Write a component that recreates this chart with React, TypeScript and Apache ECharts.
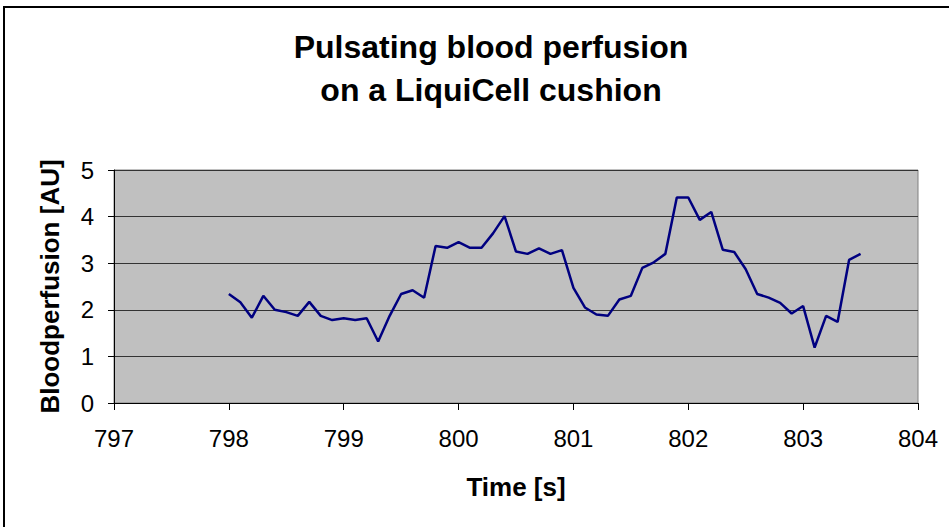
import React, { useEffect, useRef } from "react";
import * as echarts from "echarts";

const times: number[] = [
  798.0, 798.1, 798.2, 798.3, 798.4, 798.5, 798.6, 798.7, 798.8, 798.9,
  799.0, 799.1, 799.2, 799.3, 799.4, 799.5, 799.6, 799.7, 799.8, 799.9,
  800.0, 800.1, 800.2, 800.3, 800.4, 800.5, 800.6, 800.7, 800.8, 800.9,
  801.0, 801.1, 801.2, 801.3, 801.4, 801.5, 801.6, 801.7, 801.8, 801.9,
  802.0, 802.1, 802.2, 802.3, 802.4, 802.5, 802.6, 802.7, 802.8, 802.9,
  803.0, 803.1, 803.2, 803.3, 803.4, 803.5,
];

const perfusion: number[] = [
  2.34, 2.16, 1.83, 2.30, 2.00, 1.95, 1.87, 2.17, 1.87, 1.78,
  1.82, 1.78, 1.82, 1.32, 1.87, 2.34, 2.42, 2.26, 3.37, 3.33,
  3.45, 3.33, 3.33, 3.64, 4.01, 3.25, 3.20, 3.32, 3.20, 3.28,
  2.47, 2.05, 1.90, 1.87, 2.22, 2.30, 2.90, 3.02, 3.20, 4.41,
  4.41, 3.93, 4.10, 3.29, 3.24, 2.87, 2.34, 2.26, 2.15, 1.92,
  2.08, 1.19, 1.87, 1.74, 3.07, 3.20,
];

const titleLines: string[] = ["Pulsating blood perfusion", "on a LiquiCell cushion"];
const xAxisName = "Time [s]";
const yAxisName = "Bloodperfusion [AU]";

const FONT = "'Liberation Sans', Arial, Helvetica, sans-serif";

export default function App() {
  const ref = useRef<HTMLDivElement>(null);

  useEffect(() => {
    if (!ref.current) return;
    const chart = echarts.init(ref.current, null, { renderer: "svg" });
    const data = times.map((t, i) => [t, perfusion[i]]);
    chart.setOption({
      animation: false,
      backgroundColor: "#ffffff",
      graphic: [
        {
          type: "rect",
          shape: { x: 4, y: 7, width: 980, height: 560 },
          style: { fill: "none", stroke: "#000000", lineWidth: 2 },
          silent: true,
          z: 100,
        },
      ],
      title: {
        text: titleLines.join("\n"),
        left: 486,
        top: 20,
        textAlign: "center",
        textStyle: {
          fontFamily: FONT,
          fontSize: 32,
          fontWeight: "bold",
          color: "#000000",
          lineHeight: 43,
        },
      },
      grid: {
        left: 114,
        right: 31,
        top: 170,
        bottom: 124,
        show: true,
        backgroundColor: "#c0c0c0",
        borderColor: "#808080",
        borderWidth: 1,
      },
      xAxis: {
        type: "value",
        min: 797,
        max: 804,
        interval: 1,
        name: xAxisName,
        nameLocation: "middle",
        nameGap: 71,
        nameTextStyle: {
          fontFamily: FONT,
          fontSize: 26,
          fontWeight: "bold",
          color: "#000000",
        },
        axisLine: { show: true, onZero: false, lineStyle: { color: "#000000", width: 1 } },
        axisTick: { show: true, length: 7, inside: false, lineStyle: { color: "#000000" } },
        axisLabel: {
          fontFamily: FONT,
          fontSize: 24,
          color: "#000000",
          margin: 23,
        },
        splitLine: { show: false },
      },
      yAxis: {
        type: "value",
        min: 0,
        max: 5,
        interval: 1,
        name: yAxisName,
        nameLocation: "middle",
        nameGap: 51,
        nameTextStyle: {
          fontFamily: FONT,
          fontSize: 26,
          fontWeight: "bold",
          color: "#000000",
        },
        axisLine: { show: true, lineStyle: { color: "#000000", width: 1 } },
        axisTick: { show: true, length: 6, inside: false, lineStyle: { color: "#000000" } },
        axisLabel: {
          fontFamily: FONT,
          fontSize: 24,
          color: "#000000",
          margin: 20,
        },
        splitLine: { show: true, lineStyle: { color: "#333333", width: 1.2 } },
      },
      series: [
        {
          type: "line",
          data,
          showSymbol: false,
          symbol: "none",
          lineStyle: { color: "#000080", width: 2.5 },
        },
      ],
    });
    return () => chart.dispose();
  }, []);

  return (
    <div
      ref={ref}
      style={{ position: "fixed", left: 0, top: 0, width: 949, height: 527 }}
    />
  );
}
